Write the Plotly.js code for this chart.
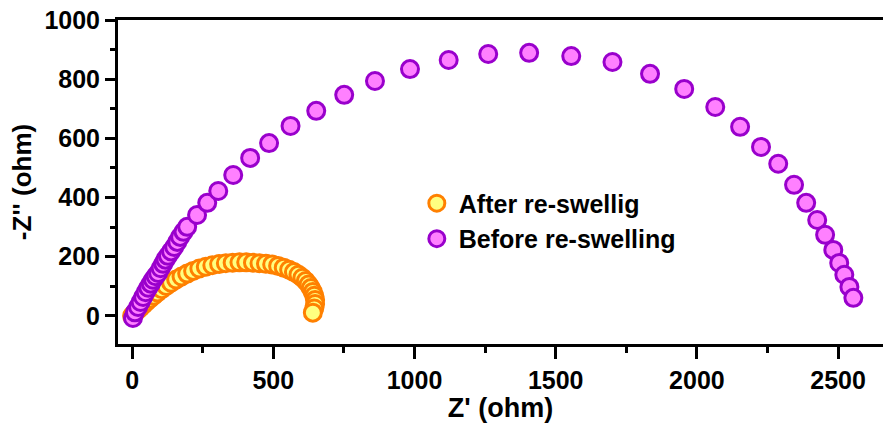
<!DOCTYPE html>
<html>
<head>
<meta charset="utf-8">
<script src="https://cdn.plot.ly/plotly-3.0.1.min.js"></script>
<style>html,body{margin:0;padding:0;background:#fff;}#chart{width:883px;height:423px;}</style>
</head>
<body>
<div id="chart"></div>
<script>
// After re-swelling (orange)
const afterName = "After re-swellig";
const afterX = [0, 6, 13, 21, 30, 40, 51, 63, 76, 90, 105, 121, 138, 156, 175, 195, 216, 238, 261, 284, 308, 332, 356, 380, 404, 428, 451, 474, 496, 517, 537, 556, 573, 589, 603, 615, 625, 633, 640, 645, 648, 648, 645, 640];
const afterY = [0, 6, 13, 21, 29, 38, 48, 58, 68, 79, 90, 101, 112, 123, 133, 143, 152, 160, 166, 171, 175, 178, 180, 181, 181, 180, 178, 176, 174, 169, 163, 156, 148, 139, 129, 118, 106, 94, 81, 68, 54, 40, 25, 11];

// Before re-swelling (purple)
const beforeName = "Before re-swelling";
const beforeX = [3, 10, 21, 30, 39, 48, 57, 66, 74, 83, 92, 101, 110, 118, 127, 138, 149, 160, 170, 182, 195, 230, 266, 305, 358, 418, 485, 561, 652, 751, 860, 984, 1121, 1261, 1406, 1555, 1701, 1834, 1955, 2065, 2153, 2227, 2288, 2344, 2387, 2426, 2454, 2483, 2504, 2522, 2540, 2554];
const beforeY = [-7, 12, 30, 47, 64, 80, 95, 109, 122, 134, 145, 161, 176, 190, 203, 218, 233, 250, 267, 284, 301, 341, 382, 422, 476, 534, 584, 642, 693, 747, 794, 834, 865, 885, 889, 878, 858, 818, 767, 706, 639, 571, 514, 443, 382, 324, 274, 223, 179, 139, 98, 61];

// Axis labels
const xTitle = "Z' (ohm)";
const yTitle = "-Z'' (ohm)";

const FONT = "Arial, 'Liberation Sans', sans-serif";

const traces = [
  {
    x: afterX, y: afterY, name: afterName, type: 'scatter', mode: 'markers',
    marker: {size: 17, color: '#FFFF80', line: {color: '#FF8000', width: 3}}
  },
  {
    x: beforeX, y: beforeY, name: beforeName, type: 'scatter', mode: 'markers',
    marker: {size: 17, color: '#FF80FF', line: {color: '#9900CC', width: 3}}
  }
];

const axisCommon = {
  showgrid: false, zeroline: false, showline: true, linecolor: '#000', linewidth: 3,
  ticks: 'outside', tickwidth: 3, tickcolor: '#000',
  tickfont: {family: FONT, size: 25, color: '#000', weight: 'bold'},
  automargin: false
};

const layout = {
  width: 883, height: 423,
  margin: {l: 118, r: 0, t: 20, b: 79},
  paper_bgcolor: '#fff', plot_bgcolor: '#fff',
  showlegend: true,
  legend: {
    x: 0.388, y: 0.505, xanchor: 'left', yanchor: 'top',
    bgcolor: 'rgba(0,0,0,0)', borderwidth: 0,
    font: {family: FONT, size: 25, color: '#000', weight: 'bold'},
    itemsizing: 'trace', itemwidth: 34, tracegroupgap: 0
  },
  xaxis: Object.assign({}, axisCommon, {
    range: [-50, 2659], dtick: 500, tick0: 0, ticklen: 12, mirror: true,
    minor: {dtick: 250, ticklen: 6, tickwidth: 3, tickcolor: '#000', ticks: 'outside'},
    title: {text: xTitle, font: {family: FONT, size: 27, color: '#000', weight: 'bold'}, standoff: 2}
  }),
  yaxis: Object.assign({}, axisCommon, {
    range: [-95, 1000], dtick: 200, tick0: 0, ticklen: 10,
    minor: {dtick: 100, ticklen: 5, tickwidth: 3, tickcolor: '#000', ticks: 'outside'},
    title: {text: yTitle, font: {family: FONT, size: 26, color: '#000', weight: 'bold'}, standoff: 6}
  })
};

Plotly.newPlot('chart', traces, layout, {displayModeBar: false, staticPlot: true});
</script>
</body>
</html>
